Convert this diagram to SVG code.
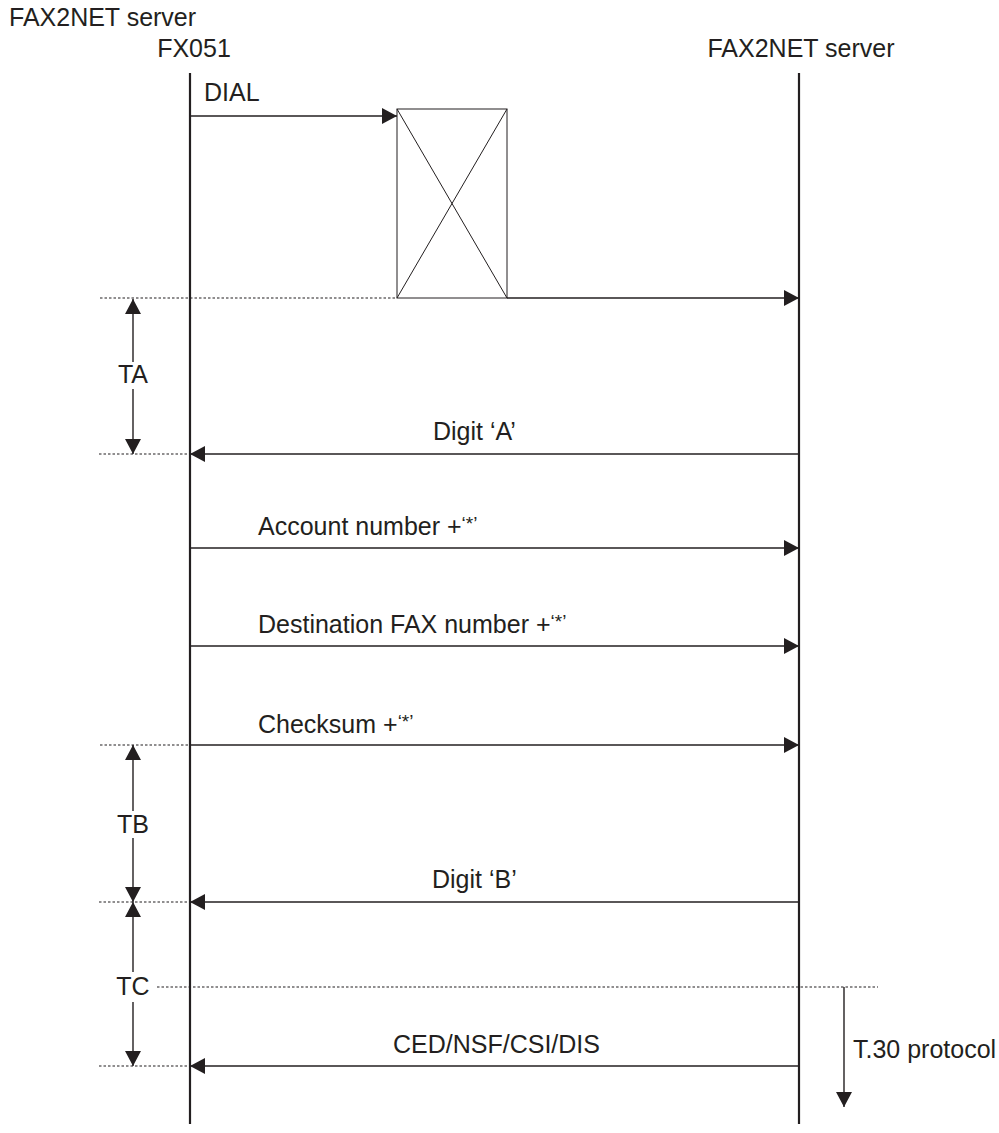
<svg xmlns="http://www.w3.org/2000/svg" width="999" height="1133" viewBox="0 0 999 1133">
<style>
text{font-family:"Liberation Sans",Arial,sans-serif;font-size:25px;fill:#231f20}
.life{stroke:#231f20;stroke-width:2.2;fill:none}
.msg{stroke:#231f20;stroke-width:1.4;fill:none}
.dot{stroke:#231f20;stroke-width:1.2;stroke-dasharray:2.5 2;fill:none}
.thin{stroke:#231f20;stroke-width:1;fill:none}
.sup{font-size:19px}
</style>
<defs>
<marker id="ah" markerUnits="userSpaceOnUse" markerWidth="16" markerHeight="18" refX="15" refY="8" orient="auto">
<path d="M0,0 L15,8 L0,16 Z" fill="#231f20"/>
</marker>
</defs>
<rect width="999" height="1133" fill="#ffffff"/>

<g id="title"><text x="9" y="26">FAX2NET server</text></g>

<g id="fx051">
<text x="194" y="57" text-anchor="middle">FX051</text>
<line class="life" x1="190" y1="73" x2="190" y2="1124"/>
</g>
<g id="server">
<text x="801" y="57" text-anchor="middle">FAX2NET server</text>
<line class="life" x1="799" y1="73" x2="799" y2="1124"/>
</g>

<g id="switch">
<rect class="thin" x="397" y="109" width="110" height="189"/>
<line class="thin" x1="397" y1="109" x2="507" y2="298"/>
<line class="thin" x1="507" y1="109" x2="397" y2="298"/>
</g>

<g id="connectors">
<line class="msg" x1="190" y1="116" x2="397" y2="116" marker-end="url(#ah)"/>
<line class="msg" x1="507" y1="298" x2="799" y2="298" marker-end="url(#ah)"/>
<line class="msg" x1="799" y1="454" x2="190" y2="454" marker-end="url(#ah)"/>
<line class="msg" x1="190" y1="548" x2="799" y2="548" marker-end="url(#ah)"/>
<line class="msg" x1="190" y1="646" x2="799" y2="646" marker-end="url(#ah)"/>
<line class="msg" x1="190" y1="745" x2="799" y2="745" marker-end="url(#ah)"/>
<line class="msg" x1="799" y1="902" x2="190" y2="902" marker-end="url(#ah)"/>
<line class="msg" x1="799" y1="1066" x2="190" y2="1066" marker-end="url(#ah)"/>

<line class="dot" x1="100" y1="298" x2="397" y2="298"/>
<line class="dot" x1="99" y1="454" x2="190" y2="454"/>
<line class="dot" x1="100" y1="745" x2="190" y2="745"/>
<line class="dot" x1="99" y1="902" x2="190" y2="902"/>
<line class="dot" x1="157" y1="987" x2="878" y2="987"/>
<line class="dot" x1="99" y1="1066" x2="190" y2="1066"/>

<line class="msg" x1="133" y1="362" x2="133" y2="299" marker-end="url(#ah)"/>
<line class="msg" x1="133" y1="389" x2="133" y2="454" marker-end="url(#ah)"/>
<line class="msg" x1="133" y1="811" x2="133" y2="745" marker-end="url(#ah)"/>
<line class="msg" x1="133" y1="838" x2="133" y2="902" marker-end="url(#ah)"/>
<line class="msg" x1="133" y1="972" x2="133" y2="902" marker-end="url(#ah)"/>
<line class="msg" x1="133" y1="1002" x2="133" y2="1066" marker-end="url(#ah)"/>
<line class="msg" x1="844" y1="987" x2="844" y2="1107" marker-end="url(#ah)"/>
</g>

<g id="labels">
<text x="204" y="101">DIAL</text>
<text x="133" y="383" text-anchor="middle">TA</text>
<text x="433" y="440">Digit ‘A’</text>
<text x="258" y="535">Account number +<tspan class="sup" dy="-5">‘*’</tspan></text>
<text x="258" y="633">Destination FAX number +<tspan class="sup" dy="-5">‘*’</tspan></text>
<text x="258" y="733">Checksum +<tspan class="sup" dy="-5">‘*’</tspan></text>
<text x="133" y="833" text-anchor="middle">TB</text>
<text x="432" y="888">Digit ‘B’</text>
<text x="133" y="995" text-anchor="middle">TC</text>
<text x="393" y="1053">CED/NSF/CSI/DIS</text>
<text x="853" y="1058">T.30 protocol</text>
</g>
</svg>
